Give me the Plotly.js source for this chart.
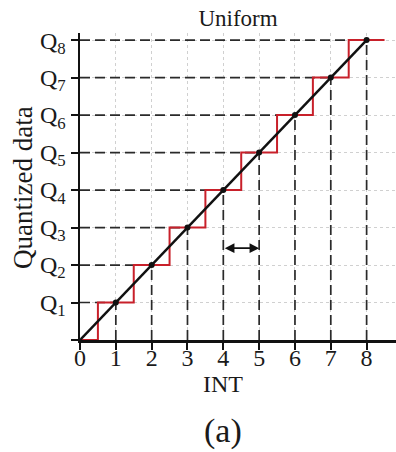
<!DOCTYPE html>
<html>
<head>
<meta charset="utf-8">
<script src="https://cdn.plot.ly/plotly-3.0.1.min.js"></script>
<style>html,body{margin:0;padding:0;background:#fff;}#chart{width:396px;height:452px;}</style>
</head>
<body>
<div id="chart"></div>
<script>
// Data
var intValues = [1, 2, 3, 4, 5, 6, 7, 8];
var quantLevels = [1, 2, 3, 4, 5, 6, 7, 8];
var stairX = [0, 0.5, 1.5, 2.5, 3.5, 4.5, 5.5, 6.5, 7.5, 8.5];
var stairY = [0, 1, 2, 3, 4, 5, 6, 7, 8, 8];
var lineX = [0, 8];
var lineY = [0, 8];
var xTickVals = [0, 1, 2, 3, 4, 5, 6, 7, 8];
var xTickText = ['0', '1', '2', '3', '4', '5', '6', '7', '8'];
var yTickVals = [0, 1, 2, 3, 4, 5, 6, 7, 8];
var yTickText = ['', 'Q<sub>1</sub>', 'Q<sub>2</sub>', 'Q<sub>3</sub>', 'Q<sub>4</sub>', 'Q<sub>5</sub>', 'Q<sub>6</sub>', 'Q<sub>7</sub>', 'Q<sub>8</sub>'];
var arrowFrom = 4, arrowTo = 5, arrowLevel = 2.45;

var serif = '"Liberation Serif", serif';

// dashed guide lines built from data
var hx = [], hy = [], vx = [], vy = [];
for (var i = 0; i < intValues.length; i++) {
  hx.push(0, intValues[i], null); hy.push(quantLevels[i], quantLevels[i], null);
  vx.push(intValues[i], intValues[i], null); vy.push(0, quantLevels[i], null);
}

var traces = [
  {x: hx, y: hy, mode: 'lines', line: {color: '#2a2a2a', width: 1.7, dash: '10px,5px'}, hoverinfo: 'skip'},
  {x: vx, y: vy, mode: 'lines', line: {color: '#2a2a2a', width: 1.7, dash: '10px,5px'}, hoverinfo: 'skip'},
  {x: stairX, y: stairY, mode: 'lines', line: {color: '#c8202a', width: 2, shape: 'hv'}, hoverinfo: 'skip'},
  {x: lineX, y: lineY, mode: 'lines', line: {color: '#111', width: 2.5}, hoverinfo: 'skip'},
  {x: intValues, y: quantLevels, mode: 'markers', marker: {color: '#111', size: 6}, hoverinfo: 'skip'}
];

var layout = {
  width: 396, height: 452,
  margin: {l: 80, r: 0, t: 33, b: 112},
  paper_bgcolor: '#fff', plot_bgcolor: '#fff',
  showlegend: false,
  font: {family: serif, color: '#1a1a1a', size: 24},
  title: {text: 'Uniform', font: {family: serif, size: 23, color: '#1a1a1a'}, x: 238/396, xanchor: 'center', xref: 'container', y: 1 - 18/452, yref: 'container', yanchor: 'middle'},
  xaxis: {
    range: [0, 8.82], tickvals: xTickVals, ticktext: xTickText,
    showline: true, linecolor: '#111', linewidth: 2.5,
    ticks: 'outside', ticklen: 7, tickwidth: 2, tickcolor: '#111',
    showgrid: true, gridcolor: '#d0d0d0', griddash: 'dot', gridwidth: 1,
    zeroline: false, tickfont: {family: serif, size: 24, color: '#1a1a1a'},
    ticklabelstandoff: -12
  },
  yaxis: {
    range: [0, 8.19], tickvals: yTickVals, ticktext: yTickText,
    showline: true, linecolor: '#111', linewidth: 2.5,
    ticks: 'outside', ticklen: 7, tickwidth: 2, tickcolor: '#111',
    showgrid: true, gridcolor: '#d0d0d0', griddash: 'dot', gridwidth: 1,
    zeroline: false, tickfont: {family: serif, size: 24, color: '#1a1a1a'}
  },
  annotations: [
    {x: arrowTo, y: arrowLevel, ax: arrowFrom, ay: arrowLevel, xref: 'x', yref: 'y', axref: 'x', ayref: 'y',
     text: '', showarrow: true, arrowhead: 2, arrowside: 'end+start', arrowsize: 1.2, arrowwidth: 1.6, arrowcolor: '#111', standoff: 0, startstandoff: 0},
    {text: 'Quantized data', xref: 'paper', yref: 'paper', x: 0, xanchor: 'center', y: 0, yanchor: 'middle',
     textangle: -90, showarrow: false, font: {family: serif, size: 27, color: '#1a1a1a'}},
    {text: 'INT', xref: 'x', yref: 'paper', x: 4, xanchor: 'center', y: 0, yanchor: 'middle', showarrow: false, font: {family: serif, size: 24, color: '#1a1a1a'}},
    {text: '(a)', xref: 'x', yref: 'paper', x: 4, xanchor: 'center', y: 0, yanchor: 'middle', showarrow: false, font: {family: serif, size: 34, color: '#1a1a1a'}}
  ]
};

var plotH = 452 - 33 - 112;
function paperY(py) { return (452 - 112 - py) / plotH; }
function paperX(px) { return (px - 80) / (396 - 80); }
layout.annotations[1].x = paperX(23);
layout.annotations[1].y = paperY(188);
layout.annotations[2].y = paperY(384);
layout.annotations[3].y = paperY(431);

Plotly.newPlot('chart', traces, layout, {displayModeBar: false, staticPlot: true});
</script>
</body>
</html>
